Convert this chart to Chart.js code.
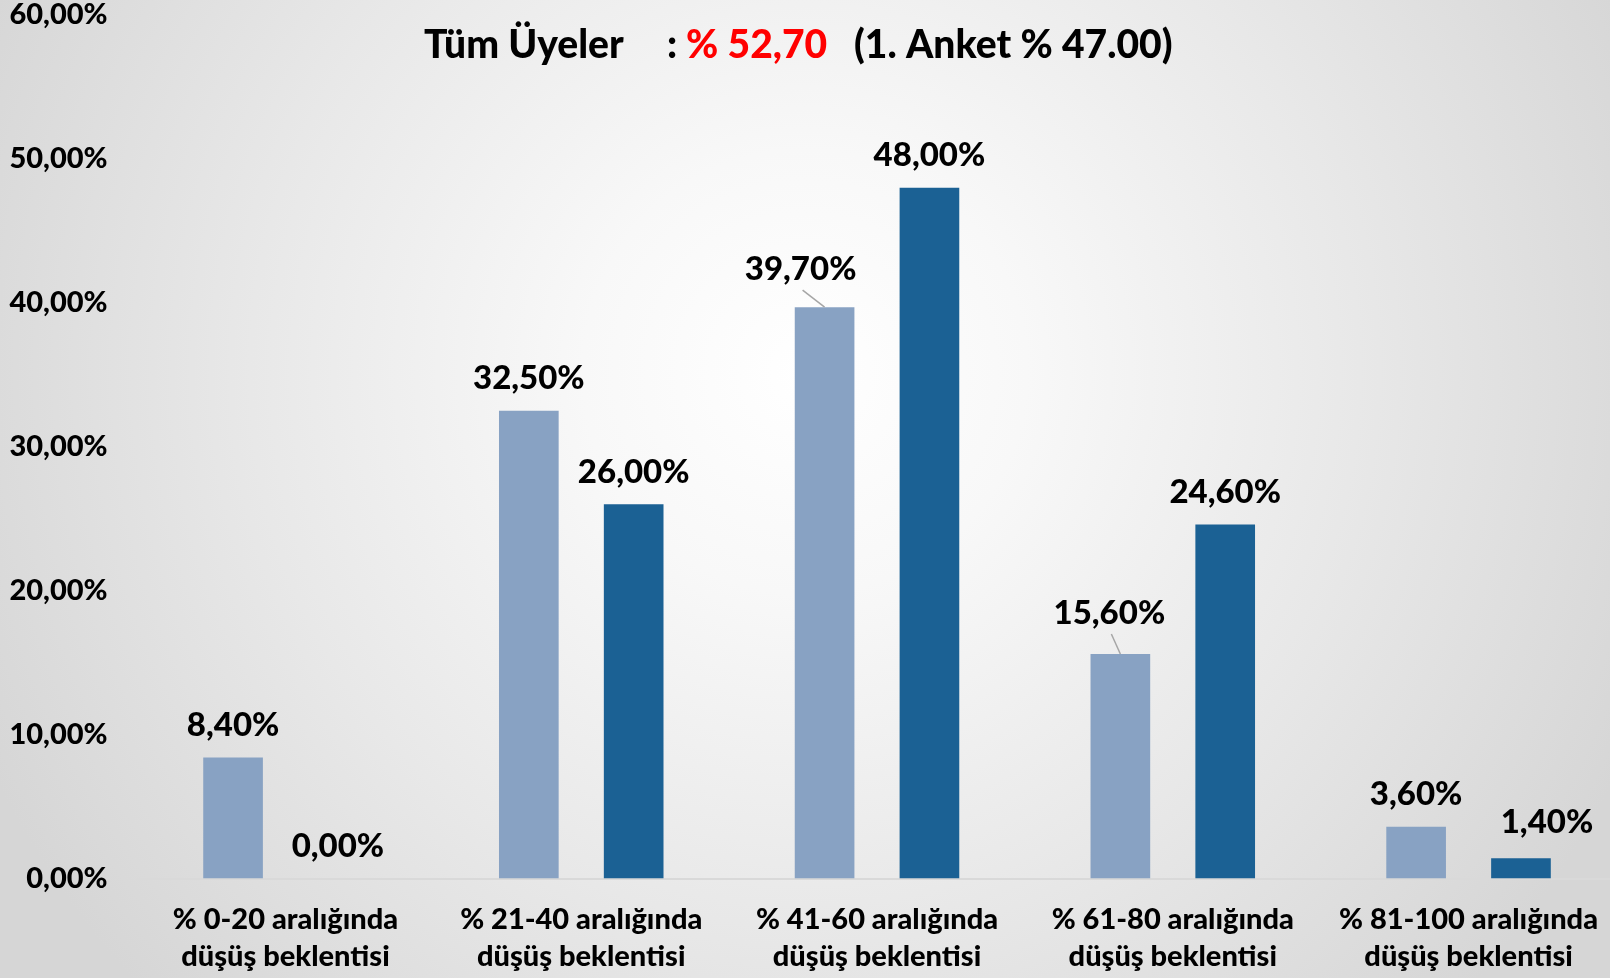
<!DOCTYPE html>
<html>
<head>
<meta charset="utf-8">
<script src="https://cdn.jsdelivr.net/npm/chart.js@4.4.1/dist/chart.umd.min.js"></script>
<style>
  html, body { margin: 0; padding: 0; overflow: hidden; }
  body {
    width: 1610px; height: 978px;
    background: radial-gradient(circle at 50% 38%, #ffffff 0%, #f8f8f8 22%, #e8e8e8 55%, #d6d6d6 90%);
  }
  canvas { display: block; }
</style>
</head>
<body>
<canvas id="grafik" width="1620" height="978"></canvas>
<script>
// Kategoriler (iki satırlık etiketler)
const kategoriler = [
    ['% 0-20 aralığında', 'düşüş beklentisi'],
    ['% 21-40 aralığında', 'düşüş beklentisi'],
    ['% 41-60 aralığında', 'düşüş beklentisi'],
    ['% 61-80 aralığında', 'düşüş beklentisi'],
    ['% 81-100 aralığında', 'düşüş beklentisi']
];

// Seriler (yüzde)
const ilkAnket = [8.4, 32.5, 39.7, 15.6, 3.6];
const ikinciAnket = [0.0, 26.0, 48.0, 24.6, 1.4];

// Y ekseni tik değerleri
const yTikler = [0, 10, 20, 30, 40, 50, 60];

const FONT = 'Lato, "Open Sans", sans-serif';
const KALIN = '900';

function yuzde(v) {
    return v.toFixed(2).replace('.', ',') + '%';
}

// Etiket kaydırmaları: [dataset, index] -> dx, dy, leader
const etiketKaydirma = {
    '0-2': { dx: -24, dy: -6, cizgi: true },
    '0-3': { dx: -11, dy: -9, cizgi: true },
    '1-4': { dx: 26, dy: -4, cizgi: false }
};

// Değer etiketlerini çizen eklenti
const degerEtiketleri = {
    id: 'degerEtiketleri',
    afterDatasetsDraw(chart) {
        const ctx = chart.ctx;
        ctx.save();
        ctx.font = KALIN + ' 33px ' + FONT;
        ctx.textAlign = 'center';
        ctx.textBaseline = 'middle';
        chart.data.datasets.forEach((ds, di) => {
            const meta = chart.getDatasetMeta(di);
            meta.data.forEach((bar, i) => {
                const k = etiketKaydirma[di + '-' + i] || { dx: 0, dy: 0 };
                const lx = bar.x + k.dx;
                const ly = bar.y - 32 + k.dy;
                if (k.cizgi) {
                    ctx.strokeStyle = '#a6a6a6';
                    ctx.lineWidth = 1.5;
                    ctx.beginPath();
                    ctx.moveTo(lx + 2, ly + 21);
                    ctx.lineTo(bar.x, bar.y);
                    ctx.stroke();
                }
                ctx.fillStyle = '#000';
                ctx.fillText(yuzde(ds.data[i]), lx, ly);
            });
        });
        ctx.restore();
    }
};

// Renkli başlık
const baslik = {
    id: 'baslik',
    afterDraw(chart) {
        const ctx = chart.ctx;
        ctx.save();
        ctx.font = KALIN + ' 39px ' + FONT;
        ctx.textBaseline = 'middle';
        ctx.textAlign = 'left';
        const parcalar = [
            ['Tüm Üyeler', '#000', 424],
            [':', '#000', 667],
            ['% 52,70', '#ff0000', 686],
            ['(1. Anket % 47.00)', '#000', 854]
        ];
        parcalar.forEach(p => {
            ctx.fillStyle = p[1];
            ctx.fillText(p[0], p[2], 45);
        });
        ctx.restore();
    }
};

new Chart(document.getElementById('grafik'), {
    type: 'bar',
    data: {
        labels: kategoriler,
        datasets: [{
            label: '1. Anket',
            data: ilkAnket,
            backgroundColor: '#88a2c3',
            categoryPercentage: 0.709,
            barPercentage: 0.569
        }, {
            label: '2. Anket',
            data: ikinciAnket,
            backgroundColor: '#1b6194',
            categoryPercentage: 0.709,
            barPercentage: 0.569
        }]
    },
    options: {
        responsive: false,
        devicePixelRatio: 1,
        animation: false,
        layout: { padding: { top: 15, right: 0, left: 0, bottom: 0 } },
        scales: {
            x: {
                grid: { display: false, drawTicks: false },
                border: { display: true, color: '#d9d9d9', width: 2 },
                ticks: {
                    color: '#000',
                    padding: 22,
                    maxRotation: 0,
                    font: { family: FONT, size: 29, weight: KALIN, lineHeight: 1.3 }
                },
                afterFit(scale) { scale.height = 99.5; }
            },
            y: {
                min: 0,
                max: 60,
                grid: { display: false, drawTicks: false },
                border: { display: false },
                afterBuildTicks(scale) {
                    scale.ticks = yTikler.map(v => ({ value: v }));
                },
                ticks: {
                    color: '#000',
                    padding: 30,
                    font: { family: FONT, size: 29, weight: KALIN },
                    callback: v => yuzde(v)
                },
                afterFit(scale) {
                    scale.width = 137.6;
                    scale.paddingTop = 0;
                    scale.paddingBottom = 0;
                }
            }
        },
        plugins: {
            legend: { display: false },
            tooltip: { enabled: false }
        }
    },
    plugins: [degerEtiketleri, baslik]
});
</script>
</body>
</html>
